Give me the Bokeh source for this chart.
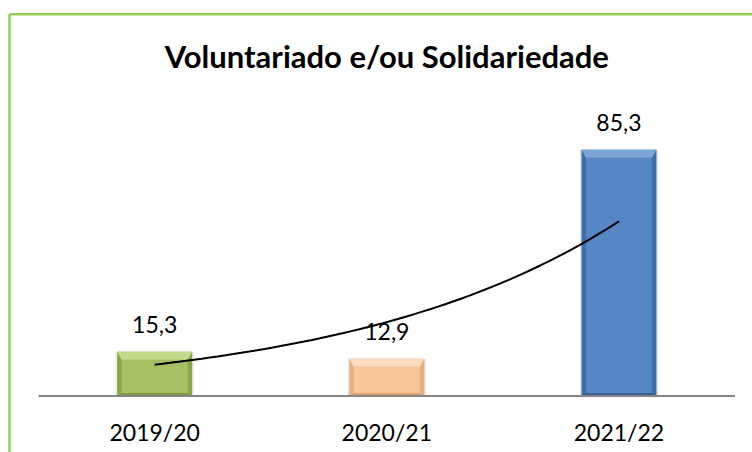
import numpy as np
from bokeh.plotting import figure
from bokeh.models import Range1d, ColumnDataSource
from bokeh.core.properties import value
from bokeh.embed import file_html
from bokeh.resources import INLINE

# ---- data ----
title = "Voluntariado e/ou Solidariedade"
categories = ["2019/20", "2020/21", "2021/22"]
values = [15.3, 12.9, 85.3]
value_labels = ["15,3", "12,9", "85,3"]
main_colors = ["#A4C263", "#F9C69A", "#5586C5"]
light_colors = ["#C2DA8C", "#FCDCBE", "#7DA4D7"]
side_colors = ["#8AA748", "#E6AF80", "#3F6DA8"]
bottom_colors = ["#7F9B40", "#DCA272", "#395F96"]

W, H = 752, 452
x0, x1 = -0.1641, 3.0752
y0, y1 = -19.58, 137.04
px_x = W / (x1 - x0)
px_y = H / (y1 - y0)

p = figure(width=W, height=H, output_backend="svg", toolbar_location=None,
           x_range=Range1d(x0, x1), y_range=Range1d(y0, y1),
           min_border=0, min_border_left=0, min_border_right=0,
           min_border_top=0, min_border_bottom=0)
p.axis.visible = False
p.grid.visible = False
p.outline_line_color = None
p.background_fill_color = "white"
p.border_fill_color = "white"

n = len(categories)
xc = np.arange(n) + 0.5
bw = 0.323
sx = 4.5 / px_x
ty = 8.0 / px_y
by = 3.0 / px_y

# green frame (left + top), positioned relative to the figure edges
frame_x = x0 + 9.0 / px_x
frame_y = y1 - 13.7 / px_y
p.segment(x0=[frame_x], y0=[frame_y], x1=[x1], y1=[frame_y], line_color="#92D050", line_width=2.5)
p.segment(x0=[frame_x], y0=[frame_y], x1=[frame_x], y1=[y0], line_color="#92D050", line_width=2.5)

# soft shadow around bars
p.vbar(x=xc, top=values, bottom=0, width=bw + 3 / px_x, fill_color="#7F7F7F", fill_alpha=0.18, line_color=None)

left = xc - bw / 2
right = xc + bw / 2
tops = np.array(values)

# outer body (side color)
p.quad(left=left, right=right, bottom=0, top=tops, fill_color=side_colors, line_color=None)
# inner face
p.quad(left=left + sx, right=right - sx, bottom=by, top=tops - ty, fill_color=main_colors, line_color=None)
# top bevel
top_xs = [[l, r, r - sx, l + sx] for l, r in zip(left, right)]
top_ys = [[t, t, t - ty, t - ty] for t in tops]
p.patches(xs=top_xs, ys=top_ys, fill_color=light_colors, line_color=None)
# bottom bevel
bot_xs = [[l, r, r - sx, l + sx] for l, r in zip(left, right)]
bot_ys = [[0, 0, by, by] for _ in tops]
p.patches(xs=bot_xs, ys=bot_ys, fill_color=bottom_colors, line_color=None)

# axis line
p.segment(x0=[0], y0=[0], x1=[n], y1=[0], line_color="#868686", line_width=2)

# exponential trendline
cx = np.arange(1, n + 1)
b, a = np.polyfit(cx, np.log(values), 1)
tx = np.linspace(1, n, 60)
tyv = np.exp(a + b * tx)
p.line(x=tx - 0.5, y=tyv, line_color="black", line_width=2)

# value labels
src = ColumnDataSource(dict(x=xc, y=values, t=value_labels))
p.text(x="x", y="y", text="t", source=src, text_align="center", text_baseline="middle",
       y_offset=-27, text_font=value("Lato"), text_font_size="23px", text_color="#000000")

# category labels
csrc = ColumnDataSource(dict(x=xc, y=[0] * n, t=categories))
p.text(x="x", y="y", text="t", source=csrc, text_align="center", text_baseline="middle",
       y_offset=36, text_font=value("Lato"), text_font_size="23px", text_color="#000000")

# title
p.text(x=[n / 2], y=[y1], text=[title], text_align="center", text_baseline="middle",
       y_offset=55.5, text_font=value("Lato"), text_font_size="31px", text_font_style="bold",
       text_color="#000000")

open("out.html", "w").write(file_html(p, INLINE))
